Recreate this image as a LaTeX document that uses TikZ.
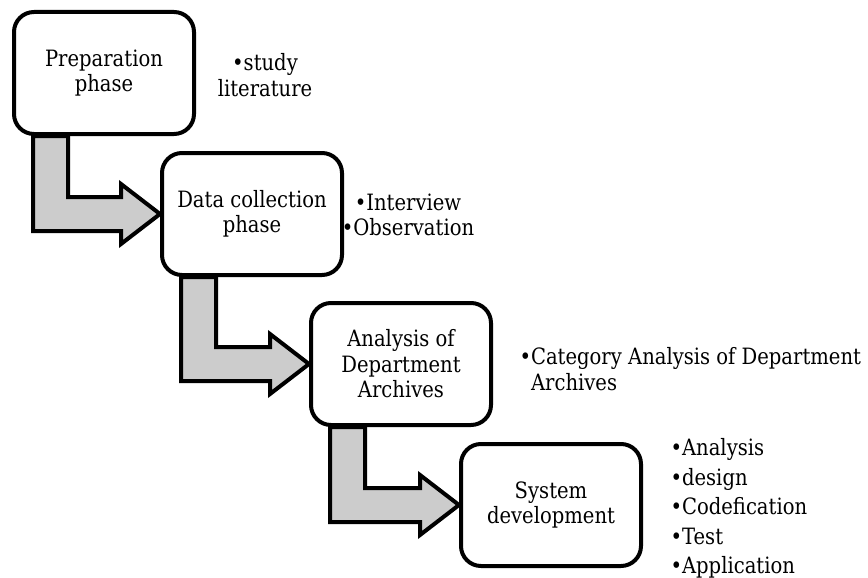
\documentclass[tikz,border=0pt]{standalone}
\usepackage{fontspec}
\setmainfont{DejaVu Serif}[FakeStretch=0.87]
\usetikzlibrary{calc,backgrounds}

\begin{document}
\begin{tikzpicture}[x=1pt, y=-1pt,
    phasebox/.style={draw, line width=4pt, rounded corners=20pt, fill=white,
      minimum width=180pt, minimum height=122pt, align=center,
      font=\fontsize{22.5}{25.5}\selectfont},
    bentarrow/.style={draw, line width=4pt, fill=black!20, line join=miter},
    notes/.style={font=\fontsize{22.5}{25.5}\selectfont}]
  \useasboundingbox (0,0) rectangle (868,578);
  % phase boxes
  \foreach \n/\x/\y/\t in {
    prep/104/73/{Preparation\\phase},
    data/252/214/{Data collection\\phase},
    arch/401/364/{Analysis of\\Department\\Archives},
    sys/551/505/{System\\development}} {
    \node[phasebox] (\n) at (\x,\y) {\t};
  }
  \begin{pgfonlayer}{background}
    % bent arrows between the phases
    \foreach \a/\b in {prep/data, data/arch, arch/sys} {
      \draw[bentarrow] let \p1=(\a.south west), \p2=(\b.west) in
        (\x1+21,\y1) -- (\x1+21,\y2-17) -- (\x2-39,\y2-17) -- (\x2-39,\y2-30)
        -- (\x2,\y2) -- (\x2-39,\y2+30) -- (\x2-39,\y2+17) -- (\x1+56,\y2+17)
        -- (\x1+56,\y1) -- cycle;
    }
    % notes beside the phases
    \node[notes, align=center] (prepnote) at (265,75)
      {\textbullet study\\literature};
    \node[notes, align=center] (datanote) at (408,215)
      {\textbullet Interview\\\textbullet Observation};
    \node[notes, align=left, anchor=west] (archnote) at (516,369)
      {\textbullet Category Analysis of Department\\\hphantom{\textbullet}Archives};
    \node[notes, align=left, anchor=north west, font=\fontsize{22.5}{29.5}\selectfont]
      (sysnote) at (667,435)
      {\textbullet Analysis\\\textbullet design\\\textbullet Codefication\\\textbullet Test\\\textbullet Application};
  \end{pgfonlayer}
\end{tikzpicture}
\end{document}
